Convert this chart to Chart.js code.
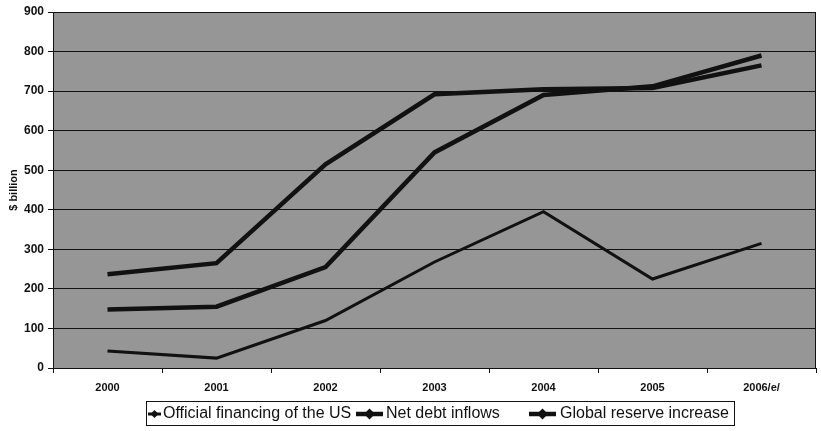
<!DOCTYPE html>
<html>
<head>
<meta charset="utf-8">
<script src="https://cdn.jsdelivr.net/npm/chart.js@4/dist/chart.umd.min.js"></script>
<style>
  html, body { margin: 0; padding: 0; background: #fff; }
  #wrap { width: 821px; height: 431px; position: relative; }
</style>
</head>
<body>
<div id="wrap"><canvas id="chart" width="821" height="431"></canvas></div>
<script>
// Categories and series ($ billion)
const years = ['2000', '2001', '2002', '2003', '2004', '2005', '2006/e/'];
const officialFinancingUS = [43, 25, 120, 268, 395, 225, 315];
const netDebtInflows = [148, 155, 255, 545, 690, 712, 790];
const globalReserveIncrease = [237, 265, 515, 692, 705, 708, 765];
const seriesNames = ['Official financing of the US', 'Net debt inflows', 'Global reserve increase'];
const yTicks = [0, 100, 200, 300, 400, 500, 600, 700, 800, 900];

const INK = '#111111';

// Grey plot fill and a full frame around the plot area
const plotFrame = {
  id: 'plotFrame',
  beforeDraw(chart) {
    const { ctx, chartArea: a } = chart;
    ctx.save();
    ctx.fillStyle = '#969696';
    ctx.fillRect(a.left, a.top, a.right - a.left, a.bottom - a.top);
    ctx.restore();
  },
  afterDraw(chart) {
    const { ctx, chartArea: a } = chart;
    ctx.save();
    ctx.strokeStyle = INK;
    ctx.lineWidth = 1;
    ctx.strokeRect(a.left + 0.5, a.top + 0.5, a.right - a.left - 1, a.bottom - a.top);
    ctx.restore();
  }
};

// Boxed legend under the plot: line sample with a marker, then the series name
const boxedLegend = {
  id: 'boxedLegend',
  afterDraw(chart, args, opts) {
    const { ctx } = chart;
    const b = opts.box;
    ctx.save();
    ctx.strokeStyle = INK;
    ctx.lineWidth = 1;
    ctx.strokeRect(b.left + 0.5, b.top + 0.5, b.width, b.height);
    ctx.font = opts.font;
    ctx.fillStyle = INK;
    ctx.textBaseline = 'middle';
    const cy = b.top + b.height / 2 + 1;
    chart.data.datasets.forEach((ds, i) => {
      const it = opts.items[i];
      ctx.strokeStyle = INK;
      ctx.lineWidth = ds.borderWidth;
      ctx.beginPath();
      ctx.moveTo(it.sample, cy);
      ctx.lineTo(it.sample + it.sampleWidth, cy);
      ctx.stroke();
      const m = ds.borderWidth + 1;
      const mx = it.sample + it.sampleWidth / 2;
      ctx.beginPath();
      ctx.moveTo(mx - m, cy);
      ctx.lineTo(mx, cy - m);
      ctx.lineTo(mx + m, cy);
      ctx.lineTo(mx, cy + m);
      ctx.closePath();
      ctx.fill();
      ctx.fillText(ds.label, it.text, cy);
    });
    ctx.restore();
  }
};

const makeSet = (label, data, width) => ({
  label, data,
  borderColor: INK,
  backgroundColor: INK,
  borderWidth: width,
  pointRadius: 0,
  tension: 0,
  fill: false
});

new Chart(document.getElementById('chart'), {
  type: 'line',
  data: {
    labels: years,
    datasets: [
      makeSet(seriesNames[0], officialFinancingUS, 3),
      makeSet(seriesNames[1], netDebtInflows, 4.5),
      makeSet(seriesNames[2], globalReserveIncrease, 4.5)
    ]
  },
  options: {
    responsive: false,
    animation: false,
    layout: { padding: { left: 6, right: 5, top: 12, bottom: 0 } },
    plugins: {
      legend: { display: false },
      tooltip: { enabled: false },
      boxedLegend: {
        font: '16px "Liberation Sans", Arial, sans-serif',
        box: { left: 146, top: 401, width: 588, height: 24 },
        items: [
          { sample: 148, sampleWidth: 13, text: 163 },
          { sample: 356, sampleWidth: 27, text: 386 },
          { sample: 529, sampleWidth: 27, text: 560 }
        ]
      }
    },
    scales: {
      x: {
        offset: true,
        grid: { display: true, offset: true, drawOnChartArea: false, drawTicks: true, tickLength: 5, color: INK },
        border: { display: true, color: INK },
        ticks: {
          color: INK,
          padding: 8,
          maxRotation: 0,
          font: { family: '"Liberation Sans", Arial, sans-serif', size: 11, weight: 'bold' }
        },
        afterFit(scale) { scale.height = 63; }
      },
      y: {
        min: 0,
        max: 900,
        afterBuildTicks(scale) { scale.ticks = yTicks.map(v => ({ value: v })); },
        grid: { color: INK, lineWidth: 1, drawTicks: true, tickLength: 5 },
        border: { display: true, color: INK },
        ticks: {
          color: INK,
          padding: 4,
          font: { family: '"Liberation Sans", Arial, sans-serif', size: 12, weight: 'bold' }
        },
        title: {
          display: true,
          text: '$ billion',
          color: INK,
          padding: { top: 1, bottom: 0 },
          font: { family: '"Liberation Sans", Arial, sans-serif', size: 11, weight: 'bold' }
        },
        afterFit(scale) { scale.width = 47; }
      }
    }
  },
  plugins: [plotFrame, boxedLegend]
});
</script>
</body>
</html>
